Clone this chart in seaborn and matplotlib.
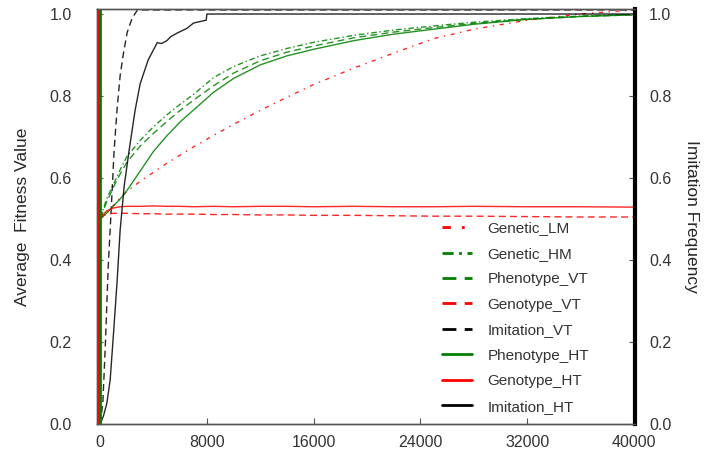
import matplotlib
matplotlib.use("Agg")
import matplotlib.pyplot as plt
import numpy as np
import pandas as pd
import seaborn as sns

# generations sampled for the fitness curves
gens = [0, 250, 500, 1000, 1500, 2000, 3000, 4000, 5000, 6000, 7000, 8500, 10000,
        12000, 14000, 16000, 19000, 22000, 25000, 28000, 32000, 36000, 40000]

genetic_lm = [0.50, 0.507, 0.515, 0.533, 0.551, 0.567, 0.592, 0.614, 0.636, 0.656, 0.676, 0.704, 0.731,
              0.765, 0.797, 0.828, 0.868, 0.905, 0.94, 0.963, 0.985, 1.0, 1.01]
genetic_hm = [0.502, 0.526, 0.55, 0.585, 0.62, 0.652, 0.692, 0.725, 0.754, 0.78, 0.804, 0.845, 0.872,
              0.898, 0.916, 0.931, 0.948, 0.961, 0.971, 0.98, 0.989, 0.995, 0.999]
phenotype_vt = [0.502, 0.522, 0.542, 0.578, 0.61, 0.638, 0.678, 0.709, 0.738, 0.765, 0.79, 0.825, 0.856,
                0.886, 0.907, 0.922, 0.942, 0.956, 0.967, 0.977, 0.987, 0.994, 0.998]
genotype_vt = [0.502, 0.508, 0.512, 0.514, 0.514, 0.514, 0.513, 0.513, 0.512, 0.512, 0.512, 0.511, 0.511,
               0.510, 0.510, 0.509, 0.509, 0.508, 0.507, 0.507, 0.506, 0.505, 0.505]
phenotype_ht = [0.502, 0.508, 0.515, 0.532, 0.549, 0.569, 0.617, 0.665, 0.703, 0.737, 0.766, 0.809, 0.843,
                0.876, 0.898, 0.914, 0.935, 0.951, 0.963, 0.975, 0.987, 0.994, 0.998]
genotype_ht = [0.502, 0.512, 0.52, 0.527, 0.53, 0.531, 0.531, 0.532, 0.531, 0.531, 0.530, 0.531, 0.530,
               0.531, 0.531, 0.530, 0.531, 0.530, 0.530, 0.531, 0.530, 0.530, 0.529]

# imitation frequency curves
imit_vt_gen = [0, 200, 400, 600, 750, 900, 1050, 1275, 1500, 1725, 2025, 2400, 2800, 40000]
imit_vt = [0.0, 0.05, 0.2, 0.38, 0.473, 0.57, 0.668, 0.77, 0.85, 0.9, 0.955, 0.99, 1.01, 1.01]
imit_ht_gen = [0, 250, 500, 750, 1000, 1275, 1500, 1800, 2175, 2625, 3000, 3600, 4275, 4600,
               5000, 5300, 5800, 6500, 7000, 7950, 8000, 40000]
imit_ht = [0.0, 0.02, 0.05, 0.107, 0.22, 0.35, 0.473, 0.58, 0.668, 0.766, 0.83, 0.888, 0.93, 0.928,
           0.935, 0.945, 0.954, 0.965, 0.978, 0.985, 1.0, 1.0]

# jump to full imitation right at the start
jump_red_gen = [-180, -180]
jump_green_gen = [0, 0]
jump_freq = [0.0, 1.012]

sns.set_style("ticks")
plt.rcParams["font.family"] = ["Liberation Sans", "DejaVu Sans"]
plt.rcParams["text.color"] = "#333333"
plt.rcParams["xtick.color"] = "#333333"
plt.rcParams["ytick.color"] = "#333333"

fig = plt.figure(figsize=(7.17, 4.55), dpi=100)
ax = fig.add_axes([0.135, 0.068, 0.751, 0.912])
ax2 = ax.twinx()

series = [
    ("Genetic_LM", gens, genetic_lm, "red", (0, (3, 4, 1, 4))),
    ("Genetic_HM", gens, genetic_hm, "green", (0, (4, 2, 1, 2))),
    ("Phenotype_VT", gens, phenotype_vt, "green", (0, (5, 3))),
    ("Genotype_VT", gens, genotype_vt, "red", (0, (5, 3))),
    ("Imitation_VT", imit_vt_gen, imit_vt, "black", (0, (5, 3))),
    ("Phenotype_HT", gens, phenotype_ht, "green", "-"),
    ("Genotype_HT", gens, genotype_ht, "red", "-"),
    ("Imitation_HT", imit_ht_gen, imit_ht, "black", "-"),
]
for name, xs, ys, col, ls in series:
    sns.lineplot(x=xs, y=ys, ax=ax, color=col, linestyle=ls, linewidth=1.0,
                 estimator=None, sort=False, label=name, alpha=0.85)

sns.lineplot(x=jump_red_gen, y=jump_freq, ax=ax2, color="red", linewidth=2,
             estimator=None, sort=False, legend=False)
sns.lineplot(x=jump_green_gen, y=jump_freq, ax=ax2, color="green", linewidth=2,
             estimator=None, sort=False, legend=False)

for a in (ax, ax2):
    a.set_xlim(-250, 40100)
    a.set_ylim(0, 1.012)
    a.set_yticks([0.0, 0.2, 0.4, 0.6, 0.8, 1.0])
    a.set_yticklabels(["0.0", "0.2", "0.4", "0.6", "0.8", "1.0"])
    a.tick_params(direction="in", length=4, width=0.8, color="#555555", labelsize=11.5)
    for s in a.spines.values():
        s.set_color("#555555")
        s.set_linewidth(1.0)
ax.tick_params(axis="y", pad=18)
ax2.tick_params(axis="y", pad=10)
ax2.spines["right"].set_color("black")
ax2.spines["right"].set_linewidth(3)
ax.set_xticks([0, 8000, 16000, 24000, 32000, 40000])
ax.tick_params(axis="x", pad=8)

ax.set_ylabel("Average  Fitness Value", fontsize=12.5, labelpad=14)
ax2.set_ylabel("Imitation Frequency", fontsize=12.5, rotation=-90, labelpad=20)
ax.set_xlabel("")

leg = ax.legend(loc="lower right", bbox_to_anchor=(0.94, -0.008), frameon=False,
                fontsize=11, labelspacing=0.75, handlelength=2.0, handletextpad=1.0)
for h in leg.get_lines():
    h.set_linewidth(2.0)
    h.set_alpha(1)

fig.savefig("out.png", dpi=100)
